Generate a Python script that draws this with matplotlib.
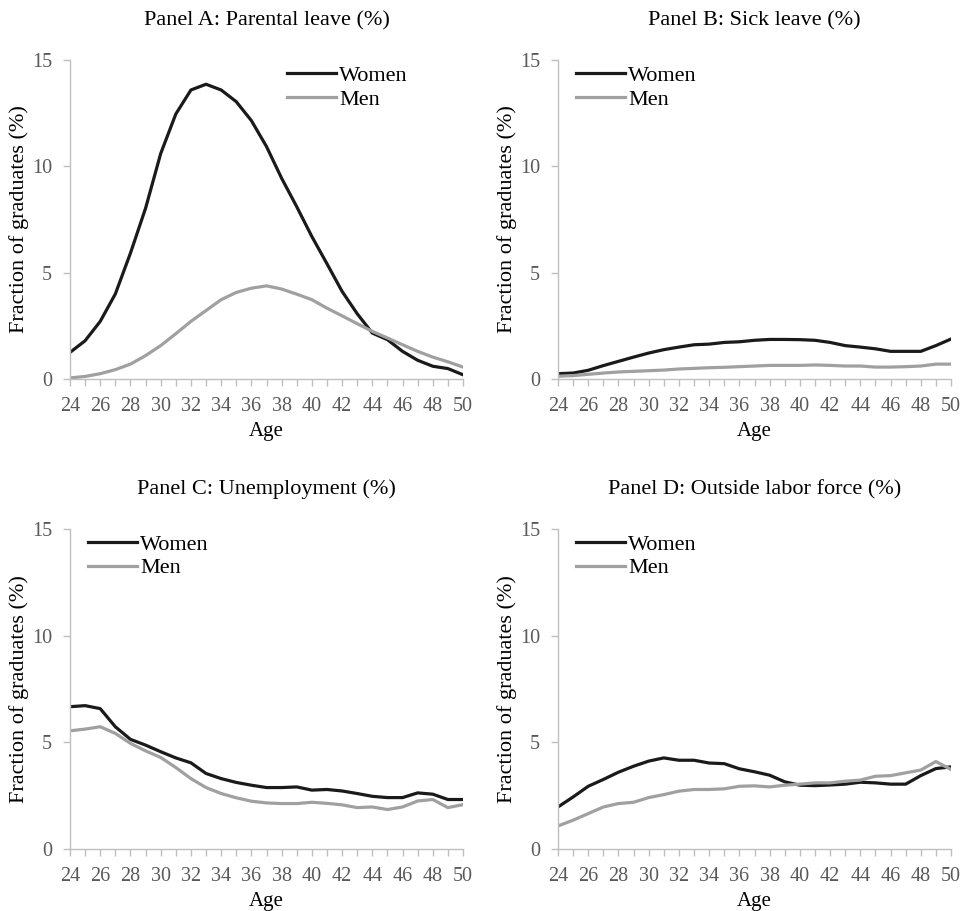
import numpy as np
import matplotlib
matplotlib.use('Agg')
import matplotlib.pyplot as plt
from matplotlib.ticker import MultipleLocator

plt.rcParams['font.family'] = ['Liberation Serif', 'DejaVu Serif']

ages = np.arange(24, 51)

# Panel A: parental leave
parental_women = [1.25, 1.8, 2.71, 4.0, 5.92, 8.03, 10.6, 12.46, 13.59, 13.86, 13.59, 13.04, 12.15,
                  10.93, 9.44, 8.1, 6.7, 5.42, 4.12, 3.07, 2.16, 1.85, 1.3, 0.88, 0.6, 0.49, 0.2]
parental_men = [0.05, 0.12, 0.25, 0.44, 0.7, 1.1, 1.57, 2.13, 2.71, 3.22, 3.73, 4.07, 4.27,
                4.38, 4.23, 3.99, 3.73, 3.33, 2.97, 2.6, 2.24, 1.93, 1.61, 1.3, 1.03, 0.81, 0.56]

# Panel B: sick leave
sick_women = [0.25, 0.28, 0.41, 0.63, 0.83, 1.03, 1.22, 1.38, 1.5, 1.61, 1.64, 1.72, 1.75,
              1.82, 1.86, 1.86, 1.85, 1.82, 1.72, 1.57, 1.5, 1.42, 1.3, 1.3, 1.3, 1.57, 1.88]
sick_men = [0.13, 0.16, 0.22, 0.28, 0.33, 0.36, 0.39, 0.42, 0.47, 0.5, 0.53, 0.55, 0.58,
            0.61, 0.64, 0.64, 0.64, 0.66, 0.64, 0.61, 0.61, 0.56, 0.56, 0.58, 0.61, 0.7, 0.7]

# Panel C: unemployment
unemp_women = [6.67, 6.72, 6.58, 5.73, 5.14, 4.87, 4.56, 4.27, 4.04, 3.54, 3.3, 3.12, 2.99,
               2.88, 2.88, 2.91, 2.76, 2.79, 2.72, 2.6, 2.47, 2.41, 2.41, 2.63, 2.57, 2.32, 2.32]
unemp_men = [5.54, 5.62, 5.73, 5.42, 4.95, 4.6, 4.29, 3.82, 3.3, 2.88, 2.6, 2.4, 2.24,
             2.16, 2.13, 2.13, 2.19, 2.14, 2.07, 1.94, 1.97, 1.85, 1.97, 2.25, 2.32, 1.94, 2.08]

# Panel D: outside labor force
olf_women = [1.97, 2.44, 2.94, 3.26, 3.6, 3.88, 4.12, 4.27, 4.16, 4.16, 4.03, 4.0, 3.76,
             3.62, 3.46, 3.15, 2.99, 2.97, 3.0, 3.04, 3.13, 3.1, 3.04, 3.04, 3.44, 3.77, 3.85]
olf_men = [1.08, 1.35, 1.66, 1.97, 2.13, 2.19, 2.41, 2.55, 2.71, 2.79, 2.79, 2.82, 2.94,
           2.96, 2.91, 2.99, 3.04, 3.1, 3.1, 3.18, 3.23, 3.41, 3.44, 3.57, 3.7, 4.1, 3.73]

titles = ['Panel A: Parental leave (%)', 'Panel B: Sick leave (%)',
          'Panel C: Unemployment (%)', 'Panel D: Outside labor force (%)']
panels = [(parental_women, parental_men), (sick_women, sick_men),
          (unemp_women, unemp_men), (olf_women, olf_men)]

W, H = 967, 911
fig = plt.figure(figsize=(W / 100, H / 100), dpi=100)

# axes boxes in pixels: left, right, top, bottom
boxes = [(70, 463, 60, 379), (558, 951, 60, 379),
         (70, 463, 529, 849), (558, 951, 529, 849)]
legend_x = [0.53, 0.023, 0.023, 0.023]

axis_grey = '#bfbfbf'
label_grey = '#595959'

for i, (women, men) in enumerate(panels):
    l, r, t, b = boxes[i]
    ax = fig.add_axes([l / W, 1 - b / H, (r - l) / W, (b - t) / H])
    ax.plot(ages, women, color='#1a1a1a', linewidth=2.3, label='Women')
    ax.plot(ages, men, color='#a0a0a0', linewidth=2.3, label='Men')
    ax.set_xlim(24, 50)
    ax.set_ylim(0, 15)
    ax.xaxis.set_major_locator(MultipleLocator(2))
    ax.xaxis.set_minor_locator(MultipleLocator(1))
    ax.yaxis.set_major_locator(MultipleLocator(5))
    for s in ['top', 'right']:
        ax.spines[s].set_visible(False)
    for s in ['left', 'bottom']:
        ax.spines[s].set_color(axis_grey)
        ax.spines[s].set_linewidth(1.0)
    ax.tick_params(axis='both', which='both', direction='out', color=axis_grey,
                   length=5, width=1.0, labelcolor=label_grey, labelsize=14.5)
    ax.tick_params(axis='x', which='both', pad=8)
    ax.tick_params(axis='y', pad=8)
    ax.set_title(titles[i], fontsize=16, pad=25)
    ax.set_xlabel('Age', fontsize=15, labelpad=4)
    ax.set_ylabel('Fraction of graduates (%)', fontsize=16, labelpad=2)
    leg = ax.legend(loc='upper left', bbox_to_anchor=(legend_x[i], 1.012), frameon=False,
                    fontsize=16, handlelength=2.2, handletextpad=0.15, labelspacing=0.15,
                    borderaxespad=0)

plt.savefig('out.png', dpi=100)
